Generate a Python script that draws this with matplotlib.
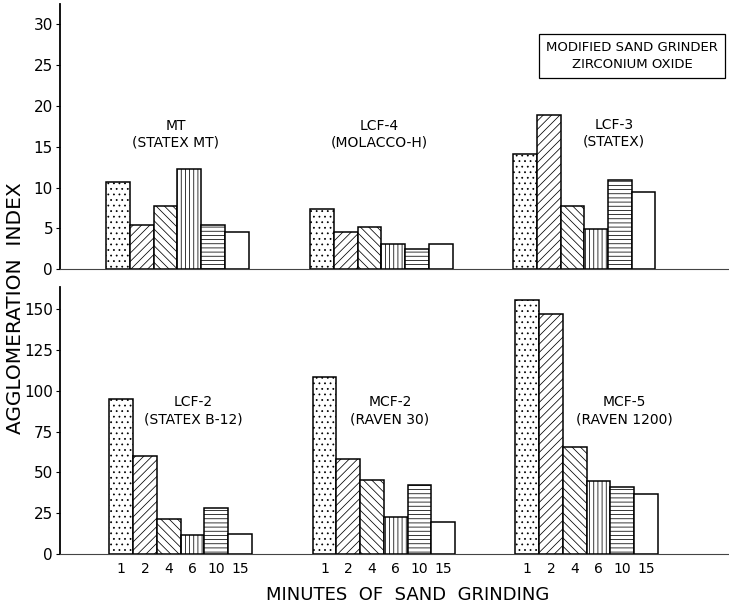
import matplotlib
matplotlib.use("Agg")
import matplotlib.pyplot as plt
import numpy as np

plt.rcParams['font.family'] = ['DejaVu Sans']
plt.rcParams['hatch.linewidth'] = 0.55
plt.rcParams['hatch.color'] = '#222222'

minutes = ["1", "2", "4", "6", "10", "15"]

top_names = ["MT\n(STATEX MT)", "LCF-4\n(MOLACCO-H)", "LCF-3\n(STATEX)"]
top_mt = [10.7, 5.4, 7.7, 12.3, 5.4, 4.6]
top_lcf4 = [7.4, 4.6, 5.2, 3.1, 2.5, 3.1]
top_lcf3 = [14.1, 18.9, 7.8, 4.9, 11.0, 9.5]

bot_names = ["LCF-2\n(STATEX B-12)", "MCF-2\n(RAVEN 30)", "MCF-5\n(RAVEN 1200)"]
bot_lcf2 = [94.9, 60.0, 21.6, 11.4, 28.2, 12.4]
bot_mcf2 = [108.2, 58.2, 45.1, 22.9, 42.3, 19.8]
bot_mcf5 = [155.5, 146.8, 65.7, 44.5, 40.8, 36.9]

hatches = ['...', '////', '\\\\\\\\', '||||', '----', '']

W, H = 729, 606
fig = plt.figure(figsize=(W / 100, H / 100), dpi=100)

def px2fig(x, y):
    return x / W, 1 - y / H

group_starts_top = [1.95, 10.55, 19.1]
group_starts_bot = [2.08, 10.65, 19.2]

ax_top = fig.add_axes([60 / W, 1 - 269.3 / H, 1 - 60 / W, (269.3 - 4) / H])
ax_bot = fig.add_axes([60 / W, 1 - 554 / H, 1 - 60 / W, (554 - 287) / H])

def draw(ax, series, starts, ymax, yticks):
    for vals, s in zip(series, starts):
        xs = s + np.arange(len(vals)) + 0.5
        for x, v, h in zip(xs, vals, hatches):
            ax.bar(x, v, width=1.0, facecolor='white', edgecolor='black',
                   linewidth=1.1, hatch=h)
    ax.set_xlim(0, 28.2)
    ax.set_ylim(0, ymax)
    ax.set_yticks(yticks)
    ax.set_yticklabels([str(t) for t in yticks], fontsize=11)
    ax.spines['top'].set_visible(False)
    ax.spines['right'].set_visible(False)
    ax.spines['left'].set_linewidth(1.3)
    ax.spines['bottom'].set_linewidth(0.8)
    ax.spines['bottom'].set_color('#444444')
    ax.tick_params(axis='y', length=3, width=0.8, pad=2)

draw(ax_top, [top_mt, top_lcf4, top_lcf3], group_starts_top, 32.5, [0, 5, 10, 15, 20, 25, 30])
ax_top.set_xticks([])

draw(ax_bot, [bot_lcf2, bot_mcf2, bot_mcf5], group_starts_bot, 163.5, [0, 25, 50, 75, 100, 125, 150])
xt = []
xl = []
for s in group_starts_bot:
    xt.extend(list(s + np.arange(6) + 0.5))
    xl.extend(minutes)
ax_bot.set_xticks(xt)
ax_bot.set_xticklabels(xl, fontsize=10)
ax_bot.tick_params(axis='x', length=0, pad=6)

# group labels
for name, (x, y) in zip(top_names, [(176, 134), (379, 134), (614, 133)]):
    fx, fy = px2fig(x, y)
    fig.text(fx, fy, name, ha='center', va='center', fontsize=10, linespacing=1.2)
for name, (x, y) in zip(bot_names, [(193, 411), (390, 411), (624, 411)]):
    fx, fy = px2fig(x, y)
    fig.text(fx, fy, name, ha='center', va='center', fontsize=10, linespacing=1.3)

# box
fx, fy = px2fig(632, 56)
fig.text(fx, fy, "MODIFIED SAND GRINDER\nZIRCONIUM OXIDE", ha='center', va='center',
         fontsize=9.5, linespacing=1.35,
         bbox=dict(boxstyle='square,pad=0.55', facecolor='white', edgecolor='black', linewidth=0.9))

fx, fy = px2fig(16, 308)
fig.text(fx, fy, "AGGLOMERATION  INDEX", rotation=90, ha='center', va='center', fontsize=14.5)
fx, fy = px2fig(408, 595)
fig.text(fx, fy, "MINUTES  OF  SAND  GRINDING", ha='center', va='center', fontsize=13)

fig.savefig("out.png", dpi=100)
